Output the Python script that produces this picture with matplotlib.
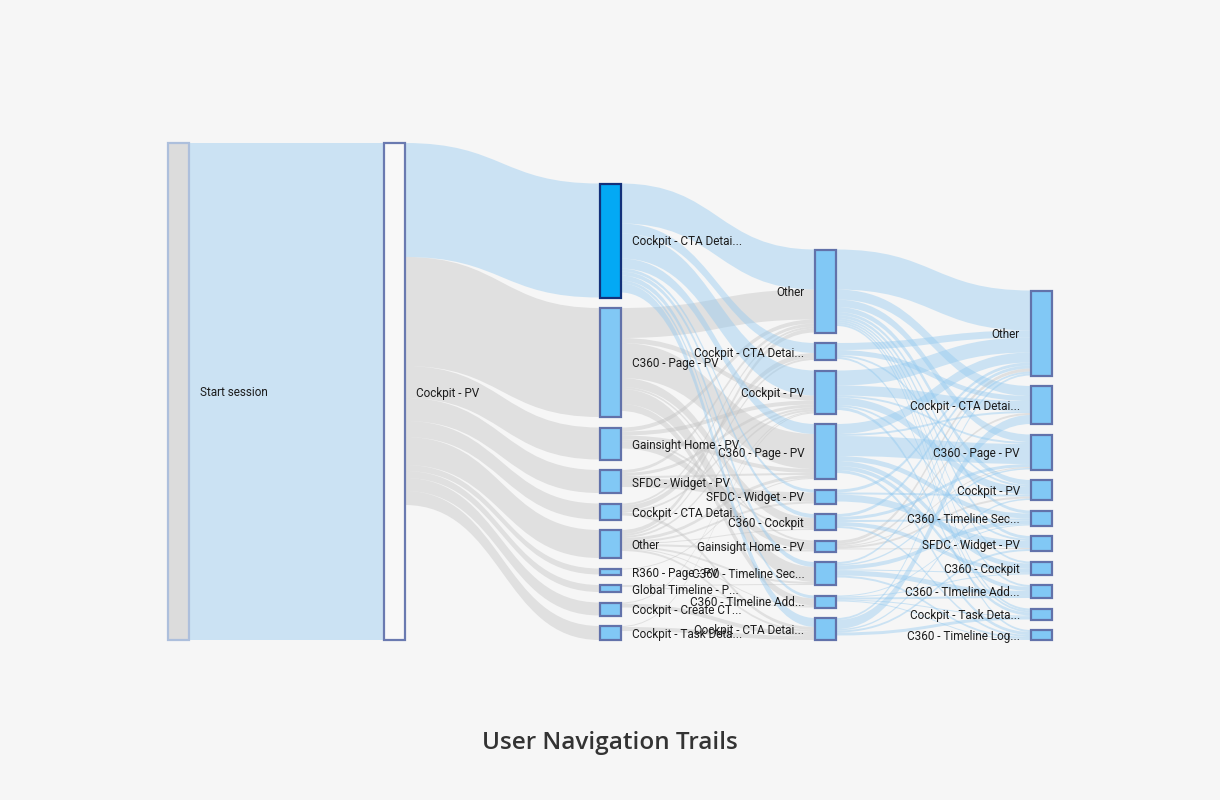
import matplotlib
matplotlib.use("Agg")
import matplotlib.pyplot as plt
from matplotlib.path import Path
from matplotlib.patches import PathPatch, Rectangle

# ---- data: node names per step (top to bottom) ----
step0 = ["Start session"]
step1 = ["Cockpit - PV"]
step2 = ["Cockpit - CTA Detai...", "C360 - Page - PV", "Gainsight Home - PV",
         "SFDC - Widget - PV", "Cockpit - CTA Detai...", "Other",
         "R360 - Page - PV", "Global Timeline - P...", "Cockpit - Create CT...",
         "Cockpit - Task Deta..."]
step3 = ["Other", "Cockpit - CTA Detai...", "Cockpit - PV", "C360 - Page - PV",
         "SFDC - Widget - PV", "C360 - Cockpit", "Gainsight Home - PV",
         "C360 - Timeline Sec...", "C360 - TImeline Add...", "Cockpit - CTA Detai..."]
step4 = ["Other", "Cockpit - CTA Detai...", "C360 - Page - PV", "Cockpit - PV",
         "C360 - Timeline Sec...", "SFDC - Widget - PV", "C360 - Cockpit",
         "C360 - TImeline Add...", "Cockpit - Task Deta...", "C360 - Timeline Log..."]

# ---- links (source index, target index, sessions) between consecutive steps ----
links01 = [(0, 0, 1988)]
links12 = [(0, 0, 456), (0, 1, 436), (0, 2, 128), (0, 3, 92), (0, 4, 64),
           (0, 5, 112), (0, 6, 24), (0, 7, 28), (0, 8, 52), (0, 9, 56)]
links23 = [(0, 0, 160), (0, 1, 40), (0, 2, 100), (0, 3, 40), (0, 4, 12), (0, 5, 16),
           (0, 7, 20), (0, 8, 12), (0, 9, 36),
           (1, 0, 120), (1, 2, 20), (1, 3, 140), (1, 5, 36), (1, 6, 8), (1, 7, 60), (1, 8, 28),
           (2, 0, 16), (2, 2, 16), (2, 3, 16), (2, 5, 8), (2, 6, 28),
           (3, 0, 12), (3, 2, 12), (3, 3, 8), (3, 4, 36),
           (4, 0, 8), (4, 1, 20), (4, 2, 8), (4, 9, 12),
           (5, 0, 16), (5, 1, 8), (5, 2, 8), (5, 3, 12), (5, 4, 8), (5, 5, 4), (5, 6, 8),
           (5, 7, 8), (5, 8, 4), (5, 9, 8),
           (6, 3, 4),
           (7, 7, 4), (7, 8, 4),
           (8, 2, 4), (8, 9, 16),
           (9, 2, 4), (9, 9, 16)]
links34 = [(0, 0, 160), (0, 1, 40), (0, 2, 30), (0, 3, 20), (0, 4, 12), (0, 5, 12),
           (0, 6, 8), (0, 7, 8), (0, 8, 8), (0, 9, 8),
           (1, 0, 28), (1, 1, 20), (1, 3, 8), (1, 8, 8),
           (2, 0, 60), (2, 1, 40), (2, 2, 8), (2, 3, 30), (2, 5, 8), (2, 8, 12),
           (3, 0, 40), (3, 1, 8), (3, 2, 80), (3, 4, 20), (3, 6, 20), (3, 7, 16), (3, 9, 12),
           (4, 0, 12), (4, 3, 8), (4, 5, 28),
           (5, 0, 12), (5, 2, 12), (5, 4, 8), (5, 6, 16), (5, 9, 8),
           (6, 0, 12), (6, 1, 8), (6, 2, 4), (6, 3, 8), (6, 5, 4),
           (7, 0, 8), (7, 2, 6), (7, 4, 16), (7, 6, 4), (7, 7, 20), (7, 9, 8),
           (8, 4, 4), (8, 6, 4), (8, 7, 8), (8, 8, 4), (8, 9, 4),
           (9, 0, 8), (9, 1, 36), (9, 3, 6), (9, 5, 8), (9, 8, 12)]

steps = [step0, step1, step2, step3, step4]
stage_links = [links01, links12, links23, links34]
highlight = (2, 0)  # selected node: step 2, "Cockpit - CTA Detai..."

# ---- layout (pixel-like canvas) ----
BG = "#f6f6f6"
X0, DX, W = 168, 215.75, 21
Y_BOTTOM = 640
GAP = 10.5
SCALE = 0.25  # px per session

BLUE_LINK = ("#90c8f0", 0.42)
GRAY_LINK = ("#c2c2c2", 0.42)

# node sizes = max(in, out)
size = [[0.0] * len(s) for s in steps]
for k, links in enumerate(stage_links):
    outs = [0.0] * len(steps[k])
    ins = [0.0] * len(steps[k + 1])
    for s, t, v in links:
        outs[s] += v
        ins[t] += v
    for i, o in enumerate(outs):
        size[k][i] = max(size[k][i], o)
    for j, v in enumerate(ins):
        size[k + 1][j] = max(size[k + 1][j], v)

# bottom-aligned columns
node_top = []
for k, s in enumerate(steps):
    total = sum(size[k]) * SCALE + GAP * (len(s) - 1)
    y = Y_BOTTOM - total
    tops = []
    for v in size[k]:
        tops.append(y)
        y += v * SCALE + GAP
    node_top.append(tops)

fig = plt.figure(figsize=(12.2, 8), dpi=100, facecolor=BG)
ax = fig.add_axes([0, 0, 1, 1])
ax.set_xlim(0, 1220)
ax.set_ylim(800, 0)
ax.axis("off")
ax.set_facecolor(BG)


def ribbon(x1, y1a, y1b, x2, y2a, y2b, color, alpha):
    xm = (x1 + x2) / 2
    verts = [(x1, y1a), (xm, y1a), (xm, y2a), (x2, y2a),
             (x2, y2b), (xm, y2b), (xm, y1b), (x1, y1b), (x1, y1a)]
    codes = [Path.MOVETO, Path.CURVE4, Path.CURVE4, Path.CURVE4,
             Path.LINETO, Path.CURVE4, Path.CURVE4, Path.CURVE4, Path.CLOSEPOLY]
    ax.add_patch(PathPatch(Path(verts, codes), facecolor=color, alpha=alpha,
                           edgecolor="none", zorder=1))


def link_is_blue(k, s, t):
    if k == 0:
        return True
    if k == 1:
        return t == 0
    if k == 2:
        return s == 0
    return s != 6  # Gainsight Home at step 3 carries no highlighted traffic


for k, links in enumerate(stage_links):
    out_cur = list(node_top[k])
    in_cur = list(node_top[k + 1])
    # offsets: at source ordered by target, at target ordered by source
    src_off = {}
    for s, t, v in sorted(links, key=lambda l: (l[0], l[1])):
        src_off[(s, t)] = out_cur[s]
        out_cur[s] += v * SCALE
    tgt_off = {}
    for s, t, v in sorted(links, key=lambda l: (l[1], l[0])):
        tgt_off[(s, t)] = in_cur[t]
        in_cur[t] += v * SCALE
    x1 = X0 + k * DX + W
    x2 = X0 + (k + 1) * DX
    ordered = sorted(links, key=lambda l: link_is_blue(k, l[0], l[1]))
    for s, t, v in ordered:
        color, alpha = BLUE_LINK if link_is_blue(k, s, t) else GRAY_LINK
        h = v * SCALE
        ya = src_off[(s, t)]
        yb = tgt_off[(s, t)]
        ribbon(x1, ya, ya + h, x2, yb, yb + h, color, alpha)

# nodes + labels
for k, names in enumerate(steps):
    x = X0 + k * DX
    for i, name in enumerate(names):
        top = node_top[k][i]
        h = size[k][i] * SCALE
        if k == 0:
            fc, ec = "#dcdcdc", "#adbfdc"
        elif k == 1:
            fc, ec = "#f8f8f8", "#6a7ab0"
        elif (k, i) == highlight:
            fc, ec = "#03a9f4", "#12307a"
        else:
            fc, ec = "#81c8f5", "#6272aa"
        ax.add_patch(Rectangle((x, top), W, h, facecolor=fc, edgecolor=ec,
                               linewidth=1.6, zorder=3))
        yc = top + h / 2 + 1.5
        if k <= 2:
            ax.text(x + W + 11, yc, name, ha="left", va="center", fontsize=8.5,
                    family="Roboto", color="#1c1c1c", zorder=4)
        else:
            ax.text(x - 11, yc, name, ha="right", va="center", fontsize=8.5,
                    family="Roboto", color="#1c1c1c", zorder=4)

fig.text(0.5, 1 - 743 / 800, "User Navigation Trails", ha="center", va="center",
         fontsize=17.5, family="Open Sans", weight="semibold", color="#333333")

fig.savefig("out.png", dpi=100, facecolor=BG)
